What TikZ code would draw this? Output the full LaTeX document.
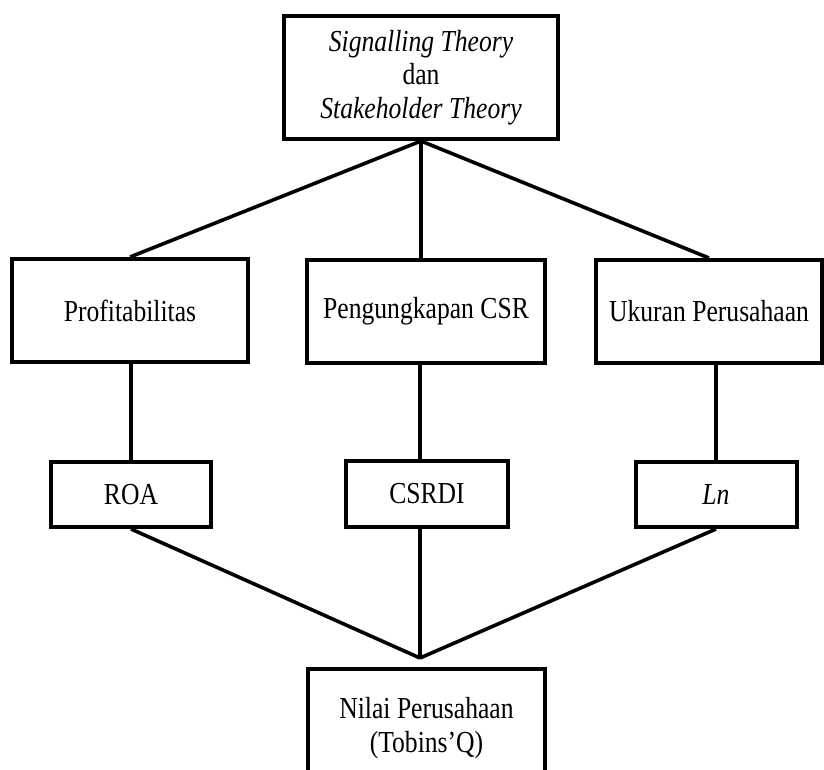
\documentclass[tikz,border=0pt]{standalone}
\usepackage{fontspec}
\setmainfont{Liberation Serif}[FakeStretch=0.84]
\begin{document}
\begin{tikzpicture}[x=1pt,y=-1pt,
  box/.style={draw=black,line width=4pt,rectangle,inner sep=0pt,align=center,
    font=\fontsize{30.5}{33.5}\selectfont},
  vline/.style={draw=black,line width=3.1pt},
  dline/.style={draw=black,line width=3.6pt}]
\useasboundingbox (0,0) rectangle (824,769);
\clip (0,0) rectangle (824,769);
\node[box,minimum width=274pt,minimum height=123pt] (top) at (421,77.5)
  {\textit{Signalling Theory}\\dan\\\textit{Stakeholder Theory}};
\node[box,minimum width=236pt,minimum height=103pt] (prof) at (130,310.5) {Profitabilitas};
\node[box,minimum width=238pt,minimum height=103pt] (csr) at (426,311.5) {Pengungkapan CSR};
\node[box,minimum width=226pt,minimum height=103pt] (uku) at (709,311.5) {Ukuran Perusahaan};
\node[box,minimum width=160pt,minimum height=65pt] (roa) at (131,494.5) {ROA};
\node[box,minimum width=162pt,minimum height=66pt] (csrdi) at (427,494) {CSRDI};
\node[box,minimum width=161pt,minimum height=65pt] (ln) at (716,494.5) {\textit{Ln}};
\node[box,minimum width=237pt,minimum height=118pt] (bot) at (426.5,728)
  {Nilai Perusahaan\\(Tobins’Q)};
\coordinate (j) at (420,658);
% top connectors
\draw[dline] (top.south) -- (prof.north);
\draw[dline] (top.south) -- (uku.north);
\draw[vline] (top.south) -- (top.south |- csr.north);
% middle verticals
\draw[vline] (roa.north) -- (roa.north |- prof.south);
\draw[vline] (j |- csr.south) -- (j |- csrdi.north);
\draw[vline] (ln.north) -- (ln.north |- uku.south);
% bottom connectors
\draw[dline] (roa.south) -- (j);
\draw[dline] (ln.south) -- (j);
\draw[vline] (j |- csrdi.south) -- (j);
\end{tikzpicture}
\end{document}
